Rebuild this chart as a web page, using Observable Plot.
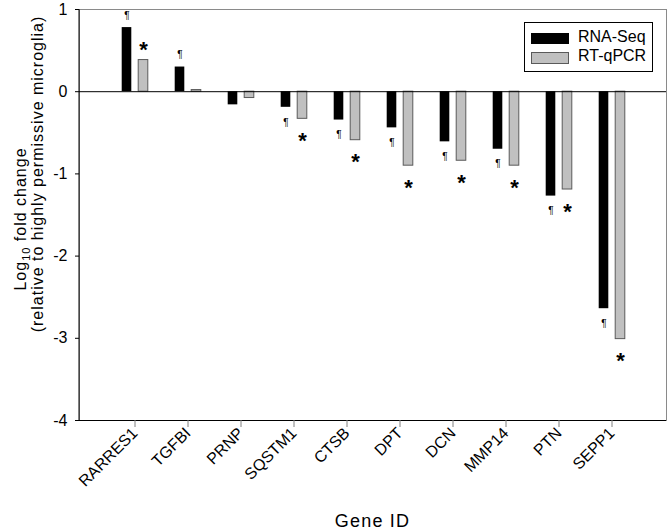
<!DOCTYPE html>
<html>
<head>
<meta charset="utf-8">
<script src="https://cdn.jsdelivr.net/npm/d3@7"></script>
<script src="https://cdn.jsdelivr.net/npm/@observablehq/plot@0.6"></script>
<style>
  body { margin: 0; background: white; }
  #wrap { position: relative; width: 669px; height: 531px; font-family: "Liberation Sans", Arial, sans-serif; }
  #legend { position: absolute; left: 524px; top: 22px; width: 129px; height: 50px; box-sizing: border-box; border: 1px solid black; background: white; }
  .sw { position: absolute; left: 6px; width: 38px; box-sizing: border-box; }
  .lt { position: absolute; left: 53px; font-size: 16px; line-height: 18px; color: black; white-space: nowrap; }
</style>
</head>
<body>
<div id="wrap">
  <div id="chart"></div>
  <div id="legend">
    <div class="sw" style="top:10px;height:11px;background:black;"></div>
    <div class="lt" style="top:5px;">RNA-Seq</div>
    <div class="sw" style="top:29px;height:12px;background:#c0c0c0;border:1px solid #5a5a5a;"></div>
    <div class="lt" style="top:24px;">RT-qPCR</div>
  </div>
</div>
<script>
const genes = ["RARRES1","TGFBI","PRNP","SQSTM1","CTSB","DPT","DCN","MMP14","PTN","SEPP1"];
const rnaSeq = [0.78, 0.30, -0.16, -0.19, -0.345, -0.44, -0.61, -0.70, -1.27, -2.64];
const rtqPCR = [0.385, 0.02, -0.077, -0.33, -0.59, -0.90, -0.84, -0.90, -1.19, -3.01];
const rnaSig = [true, true, false, true, true, true, true, true, true, true];
const qpcrSig = [true, false, false, true, true, true, true, true, true, true];
const yTicks = [1, 0, -1, -2, -3, -4];

const rows = genes.map((g, i) => ({gene: g, rna: rnaSeq[i], qpcr: rtqPCR[i], rnaSig: rnaSig[i], qpcrSig: qpcrSig[i]}));

const plot = Plot.plot({
  width: 669, height: 531,
  marginLeft: 79, marginRight: 3, marginTop: 9, marginBottom: 111,
  style: {fontFamily: "'Liberation Sans', Arial, sans-serif", fontSize: "16px", background: "white", overflow: "visible"},
  x: {type: "band", domain: genes, paddingInner: 0, paddingOuter: 0.5, axis: null},
  y: {domain: [-4, 1], axis: null},
  marks: [
    Plot.frame({stroke: "#8a8a8a"}),
    Plot.barY(rows, {x: "gene", y: "rna", fill: "black", insetLeft: 13.7, insetRight: 29.7}),
    Plot.barY(rows, {x: "gene", y: "qpcr", fill: "#c0c0c0", stroke: "#5a5a5a", strokeWidth: 1, insetLeft: 30.2, insetRight: 13.2}),
    Plot.ruleY([0], {stroke: "black"}),
    Plot.ruleY([-4], {stroke: "black"}),
    Plot.axisX({tickRotate: -45, tickSize: 7, tickPadding: 3, stroke: "#808080", fill: "black", fontSize: 16, label: null}),
    Plot.axisY({ticks: yTicks, tickSize: 4, tickPadding: 8, fontSize: 16, label: null, stroke: "black", fill: "black", tickFormat: d => String(d)}),
    Plot.text(rows.filter(d => d.rnaSig && d.rna > 0), {x: "gene", y: "rna", text: () => "¶", dx: -8, dy: -12, fontSize: 10, fill: "black"}),
    Plot.text(rows.filter(d => d.rnaSig && d.rna < 0), {x: "gene", y: "rna", text: () => "¶", dx: -8, dy: 15, fontSize: 10, fill: "black"}),
    Plot.text(rows.filter(d => d.qpcrSig && d.qpcr > 0), {x: "gene", y: "qpcr", text: () => "*", dx: 8.5, dy: -10, fontSize: 22, fontWeight: "bold", fill: "black"}),
    Plot.text(rows.filter(d => d.qpcrSig && d.qpcr < 0), {x: "gene", y: "qpcr", text: () => "*", dx: 8.5, dy: 22, fontSize: 22, fontWeight: "bold", fill: "black"})
  ]
});

const xs = plot.scale("x"), ys = plot.scale("y");
const svg = d3.select(plot);
const xL = xs.range[0], xR = xs.range[1];
svg.append("line")
  .attr("x1", xL).attr("x2", xL)
  .attr("y1", ys.range[0]).attr("y2", ys.range[1])
  .attr("stroke", "black");

const t1 = svg.append("text")
  .attr("transform", "translate(26,219) rotate(-90)")
  .attr("text-anchor", "middle").attr("font-size", 16).attr("letter-spacing", "1px").attr("fill", "black");
t1.append("tspan").text("Log");
t1.append("tspan").attr("font-size", 11).attr("dy", 4).text("10");
t1.append("tspan").attr("dy", -4).text(" fold change");

svg.append("text")
  .attr("transform", "translate(43,174) rotate(-90)")
  .attr("text-anchor", "middle").attr("font-size", 16).attr("letter-spacing", "1px").attr("fill", "black")
  .text("(relative to highly permissive microglia)");

svg.append("text")
  .attr("x", (xL + xR) / 2).attr("y", 527)
  .attr("text-anchor", "middle").attr("font-size", 18).attr("letter-spacing", "1.2px").attr("fill", "black")
  .text("Gene ID");

document.getElementById("chart").appendChild(plot);
</script>
</body>
</html>
